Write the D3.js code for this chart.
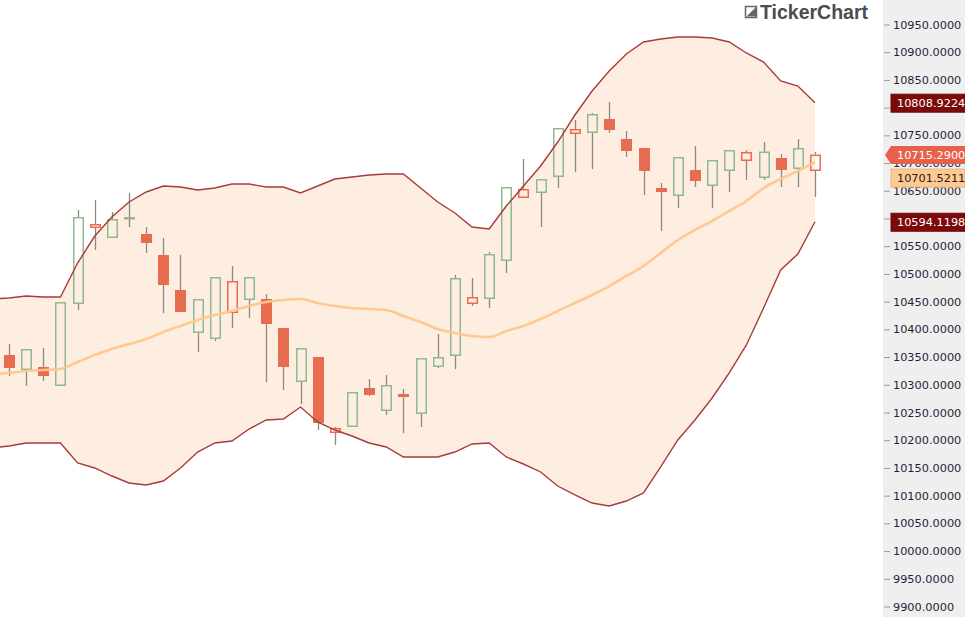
<!DOCTYPE html>
<html>
<head>
<meta charset="utf-8">
<script src="https://cdn.jsdelivr.net/npm/d3@7"></script>
<style>
  html, body { margin: 0; padding: 0; background: #ffffff; }
  svg { display: block; }
</style>
</head>
<body>
<svg id="chart" width="965" height="617"></svg>
<script>
// ---- data ----
// band values: first entry belongs to the bar just before the first visible candle
const bandUpper = [10454.8, 10456.6, 10460.2, 10458.4, 10458.4, 10519.7, 10568.4, 10602.7, 10629.8, 10647.8,
  10658.6, 10656.8, 10651.4, 10655.0, 10662.2, 10662.2, 10656.8, 10656.8, 10646.0, 10658.6,
  10671.3, 10674.9, 10678.5, 10680.3, 10680.3, 10655.0, 10629.8, 10609.9, 10584.7, 10581.1,
  10622.5, 10658.6, 10694.7, 10738.0, 10786.7, 10830.0, 10866.1, 10896.8, 10918.4, 10923.8,
  10927.4, 10927.4, 10925.6, 10918.4, 10898.6, 10882.3, 10848.1, 10839.0, 10808.9224];
const bandLower = [10186.0, 10189.6, 10195.0, 10195.0, 10195.0, 10158.9, 10149.9, 10135.4, 10122.8, 10119.2,
  10126.4, 10149.9, 10178.7, 10195.0, 10198.6, 10220.2, 10236.5, 10238.3, 10259.9, 10232.9,
  10218.4, 10207.6, 10195.0, 10187.8, 10169.7, 10169.7, 10169.7, 10178.7, 10193.2, 10195.0,
  10169.7, 10157.1, 10142.7, 10117.4, 10101.2, 10086.7, 10081.3, 10090.3, 10104.8, 10151.7,
  10200.4, 10236.5, 10276.2, 10321.3, 10371.8, 10438.5, 10507.1, 10536.0, 10594.1198];
const bandMid = [10319.5, 10321.3, 10324.9, 10326.7, 10328.5, 10341.1, 10353.7, 10364.6, 10373.6, 10382.6,
  10395.2, 10406.1, 10416.9, 10425.9, 10433.1, 10442.1, 10449.4, 10453.0, 10454.8, 10447.6,
  10442.1, 10438.5, 10436.7, 10434.9, 10424.1, 10413.3, 10400.6, 10393.4, 10388.0, 10386.2,
  10397.0, 10406.1, 10418.7, 10433.1, 10447.6, 10462.0, 10478.2, 10496.3, 10514.3, 10537.8,
  10561.2, 10579.3, 10595.5, 10613.5, 10631.6, 10655.0, 10671.3, 10685.7, 10701.5211];

const openV = [10353.74, 10326.68, 10332.09, 10297.81, 10445.75, 10582.86, 10564.82, 10599.10, 10572.04, 10534.15,
  10471.01, 10393.43, 10382.60, 10429.51, 10452.96, 10454.77, 10402.45, 10305.03, 10350.13, 10213.02,
  10223.84, 10294.20, 10252.71, 10283.37, 10247.29, 10332.09, 10351.93, 10445.75, 10454.77, 10523.32,
  10636.98, 10646.00, 10674.87, 10752.45, 10754.25, 10779.51, 10743.43, 10727.19, 10655.03, 10640.59,
  10687.50, 10658.63, 10685.70, 10703.74, 10673.07, 10709.15, 10689.30, 10685.70];
const highV = [10373.58, 10364.56, 10366.37, 10449.36, 10615.33, 10633.38, 10611.73, 10646.00, 10584.66, 10564.82,
  10534.15, 10454.77, 10494.46, 10514.30, 10494.46, 10463.79, 10402.45, 10366.37, 10350.13, 10223.84,
  10286.98, 10310.44, 10317.65, 10292.40, 10348.33, 10391.62, 10498.07, 10492.65, 10539.56, 10656.83,
  10707.34, 10671.26, 10763.27, 10777.71, 10790.33, 10810.18, 10757.86, 10727.19, 10664.05, 10710.95,
  10730.80, 10705.54, 10723.58, 10723.58, 10738.01, 10716.37, 10743.43, 10719.97];
const lowV = [10315.85, 10297.81, 10306.83, 10297.81, 10434.92, 10543.17, 10564.82, 10584.66, 10537.76, 10429.51,
  10431.31, 10359.15, 10379.00, 10402.45, 10420.49, 10305.03, 10290.59, 10265.34, 10218.43, 10191.37,
  10223.84, 10279.76, 10245.49, 10213.02, 10223.84, 10330.28, 10328.48, 10442.14, 10438.53, 10501.68,
  10636.98, 10584.66, 10655.03, 10683.89, 10689.30, 10754.25, 10710.95, 10642.40, 10577.45, 10618.94,
  10656.83, 10618.94, 10647.81, 10669.46, 10669.46, 10656.83, 10656.83, 10638.79];
const closeV = [10330.28, 10364.56, 10315.85, 10449.36, 10602.71, 10590.08, 10599.10, 10602.71, 10555.80, 10480.03,
  10431.31, 10454.77, 10494.46, 10487.24, 10494.46, 10409.67, 10332.09, 10366.37, 10231.06, 10222.04,
  10286.98, 10281.57, 10299.61, 10277.96, 10348.33, 10350.13, 10492.65, 10458.38, 10535.95, 10656.83,
  10653.22, 10671.26, 10763.27, 10761.47, 10788.53, 10759.66, 10721.78, 10685.70, 10647.81, 10710.95,
  10667.65, 10705.54, 10723.58, 10719.97, 10720.88, 10687.50, 10727.19, 10715.29];

const tickValues = [9900, 9950, 10000, 10050, 10100, 10150, 10200, 10250, 10300, 10350, 10400, 10450,
  10500, 10550, 10600, 10650, 10700, 10750, 10800, 10850, 10900, 10950];

// ---- drawing ----
const svg = d3.select('#chart');
const W = 965, H = 617, plotRight = 883;

const x = d3.scaleLinear().domain([-1, 47]).range([-8.15, 815]);
const y = d3.scaleLinear().domain([9900, 10950]).range([606.5, 24.5]);

const plot = svg.append('g');
svg.append('defs').append('clipPath').attr('id', 'clip')
  .append('rect').attr('x', 0).attr('y', 0).attr('width', plotRight).attr('height', H);
plot.attr('clip-path', 'url(#clip)');

const idx = d3.range(bandUpper.length);
const bx = i => x(i - 1);

// band fill
const area = d3.area().x(i => bx(i)).y0(i => y(bandLower[i])).y1(i => y(bandUpper[i]));
plot.append('path').datum(idx).attr('d', area).attr('fill', '#fdeee1');

// candles
const colGreen = '#8dbb8d', colRed = '#ee6a4f', colFill = '#e86d50', colWick = '#8c8a80';
const bw = 11;
const cg = plot.append('g');
openV.forEach((o, j) => {
  const c = closeV[j], h = highV[j], l = lowV[j];
  const cx = Math.round(x(j)) + 0.5;
  const prev = j > 0 ? closeV[j - 1] : o;
  const hollow = c >= o;
  const up = c >= prev;
  const top = y(Math.max(o, c)), bot = y(Math.min(o, c));
  if (y(h) < top) cg.append('line').attr('x1', cx).attr('x2', cx).attr('y1', y(h)).attr('y2', top)
    .attr('stroke', colWick).attr('stroke-width', 1.3);
  if (y(l) > bot) cg.append('line').attr('x1', cx).attr('x2', cx).attr('y1', bot).attr('y2', y(l))
    .attr('stroke', colWick).attr('stroke-width', 1.3);
  if (hollow) {
    cg.append('rect').attr('x', cx - bw / 2 + 0.75).attr('y', top + 0.75)
      .attr('width', bw - 1.5).attr('height', Math.max(bot - top - 1.5, 1))
      .attr('fill', 'none').attr('stroke', up ? colGreen : colRed).attr('stroke-width', 1.5);
  } else {
    cg.append('rect').attr('x', cx - bw / 2).attr('y', top)
      .attr('width', bw).attr('height', Math.max(bot - top, 1.5))
      .attr('fill', colFill);
  }
});

// band lines
const lineU = d3.line().x(i => bx(i)).y(i => y(bandUpper[i]));
const lineL = d3.line().x(i => bx(i)).y(i => y(bandLower[i]));
const lineM = d3.line().x(i => bx(i)).y(i => y(bandMid[i])).curve(d3.curveMonotoneX);
plot.append('path').datum(idx).attr('d', lineU).attr('fill', 'none').attr('stroke', '#a83b3b').attr('stroke-width', 1.4);
plot.append('path').datum(idx).attr('d', lineL).attr('fill', 'none').attr('stroke', '#a83b3b').attr('stroke-width', 1.4);
plot.append('path').datum(idx).attr('d', lineM).attr('fill', 'none').attr('stroke', '#ffc68c').attr('stroke-width', 2.6)
  .attr('stroke-opacity', 0.95);

// watermark
const wm = svg.append('g').attr('transform', 'translate(745,5)');
wm.append('rect').attr('x', 0.5).attr('y', 1.5).attr('width', 11).attr('height', 11)
  .attr('fill', '#fff').attr('stroke', '#666').attr('stroke-width', 1.5);
wm.append('path').attr('d', 'M1.5,11.5 L11.5,1.5 L11.5,11.5 Z').attr('fill', '#666');
wm.append('text').attr('x', 15).attr('y', 13.5).text('TickerChart')
  .attr('font-family', 'Liberation Sans, Arial, sans-serif').attr('font-weight', 'bold')
  .attr('font-size', 19.5).attr('fill', '#4d4d4d');

// right axis
svg.append('rect').attr('x', plotRight).attr('y', 0).attr('width', W - plotRight).attr('height', H).attr('fill', '#efefef');
const axis = d3.axisRight(y).tickValues(tickValues).tickFormat(d => d.toFixed(4)).tickSize(6).tickPadding(3);
const ag = svg.append('g').attr('transform', `translate(${plotRight + 1},0)`).call(axis);
ag.select('.domain').remove();
ag.selectAll('.tick line').attr('stroke', '#9a9a9a');
ag.selectAll('.tick text').attr('font-family', 'DejaVu Sans, Verdana, sans-serif').attr('font-size', 11.3)
  .attr('fill', '#1f1f3a');

// price labels
const labels = [
  { v: bandUpper[bandUpper.length - 1], bg: '#7d0a0a', fg: '#ffffff', arrow: false },
  { v: closeV[closeV.length - 1], bg: '#e8604c', fg: '#ffffff', arrow: true },
  { v: bandMid[bandMid.length - 1], bg: '#ffc994', fg: '#2a1a10', arrow: false },
  { v: bandLower[bandLower.length - 1], bg: '#7d0a0a', fg: '#ffffff', arrow: false }
];
const lh = 18, gap = 5;
let lastBottom = -Infinity;
labels.sort((a, b) => b.v - a.v).forEach(L => {
  let cy = y(L.v) + 0.5;
  if (cy - lh / 2 < lastBottom + gap) cy = lastBottom + gap + lh / 2;
  lastBottom = cy + lh / 2;
  const g = svg.append('g');
  const x0 = 891;
  if (L.arrow) {
    g.append('path').attr('d', `M${x0 - 6},${cy} L${x0},${cy - lh / 2} L${W},${cy - lh / 2} L${W},${cy + lh / 2} L${x0},${cy + lh / 2} Z`)
      .attr('fill', L.bg);
  } else {
    g.append('rect').attr('x', x0).attr('y', cy - lh / 2).attr('width', W - x0).attr('height', lh)
      .attr('fill', L.bg).attr('stroke', d3.color(L.bg).darker(0.3)).attr('stroke-width', 1);
  }
  g.append('text').attr('x', x0 + 6).attr('y', cy + 4.2).text(L.v.toFixed(4))
    .attr('font-family', 'DejaVu Sans, Verdana, sans-serif').attr('font-size', 11.3).attr('fill', L.fg);
});
</script>
</body>
</html>
